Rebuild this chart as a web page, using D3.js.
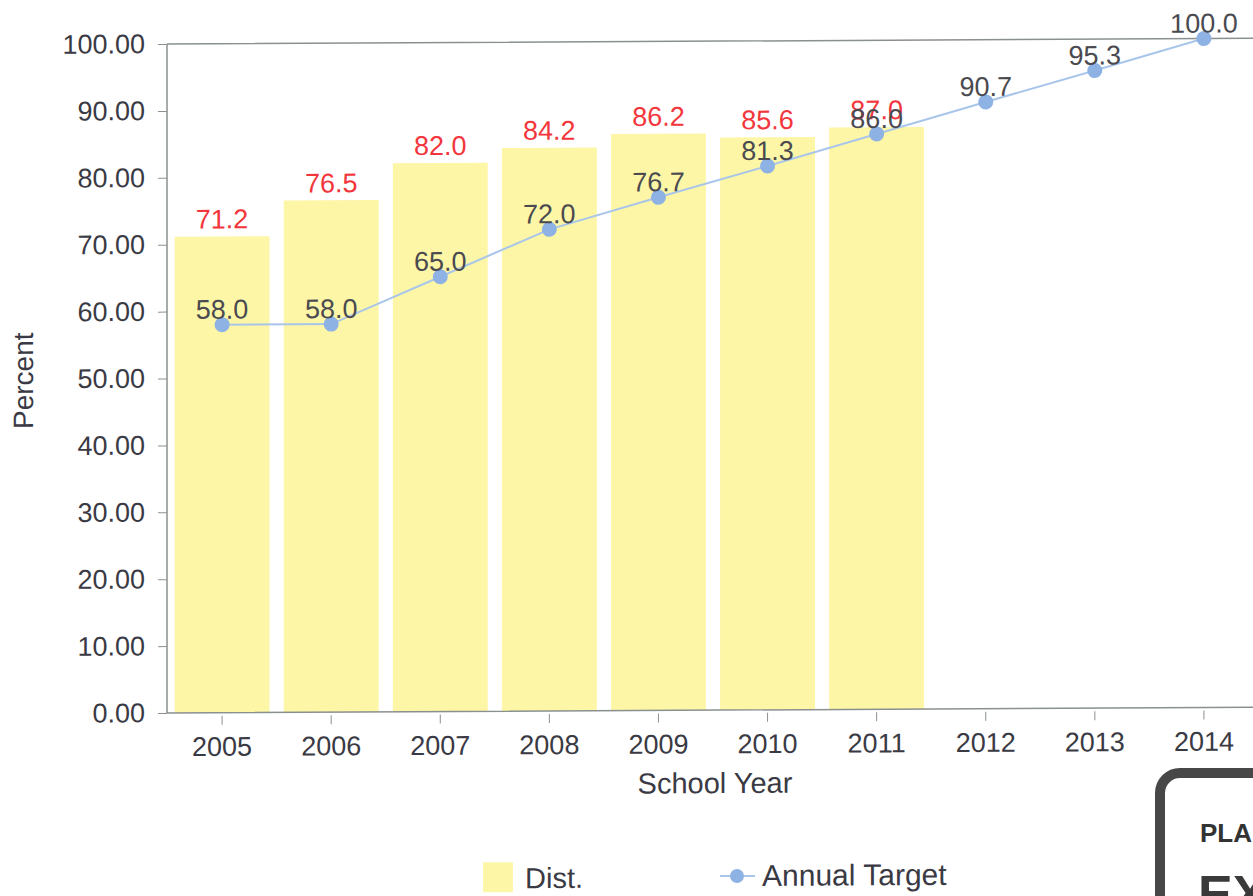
<!DOCTYPE html>
<html>
<head>
<meta charset="utf-8">
<script src="https://cdn.jsdelivr.net/npm/d3@7"></script>
<style>
  body { margin: 0; background: #fff; }
  svg { display: block; font-family: "Liberation Sans", Arial, sans-serif; }
</style>
</head>
<body>
<svg width="1253" height="896"></svg>
<script>
// chart data
let years = ['2005', '2006', '2007', '2008', '2009', '2010', '2011', '2012', '2013', '2014'];
let distYears = ['2005', '2006', '2007', '2008', '2009', '2010', '2011'];
let distValues = [71.2, 76.5, 82.0, 84.2, 86.2, 85.6, 87.0];
let targetValues = [58.0, 58.0, 65.0, 72.0, 76.7, 81.3, 86.0, 90.7, 95.3, 100.0];
let yTicks = [0, 10, 20, 30, 40, 50, 60, 70, 80, 90, 100];

// the scanned page is skewed a little (horizontals rise to the right)
let svg = d3.select('svg').append('g')
  .attr('transform', 'translate(167,713) skewY(-0.3) translate(-167,-713)');
let plotLeft = 167, plotTop = 44, plotBottom = 713, plotRight = 1259;

let x = d3.scaleBand()
  .domain(years)
  .range([plotLeft, plotRight])
  .paddingInner(0.13)
  .paddingOuter(0.07);
let y = d3.scaleLinear().domain([0, 100]).range([plotBottom, plotTop]);

let axisColor = '#8a9090';
let textColor = '#3a3a44';

// bars
let bars = distYears.map((yr, i) => ({year: yr, value: distValues[i]}));
svg.append('g').selectAll('rect')
  .data(bars)
  .enter().append('rect')
  .attr('x', d => x(d.year))
  .attr('y', d => y(d.value))
  .attr('width', x.bandwidth())
  .attr('height', d => y(0) - y(d.value))
  .attr('fill', '#fdf6a6');

// frame: left, top, bottom
svg.append('path')
  .attr('d', `M${plotLeft},${plotTop}H1270M${plotLeft},${plotTop}V${plotBottom}H1270`)
  .attr('stroke', axisColor)
  .attr('stroke-width', 1.5)
  .attr('fill', 'none');

// y axis
let yAxis = d3.axisLeft(y)
  .tickValues(yTicks)
  .tickFormat(d3.format('.2f'))
  .tickSize(9)
  .tickPadding(13);
let gy = svg.append('g')
  .attr('transform', `translate(${plotLeft},0)`)
  .call(yAxis);
gy.select('.domain').remove();
gy.selectAll('line').attr('stroke', axisColor);
gy.selectAll('text')
  .attr('fill', textColor)
  .style('font-size', '27px');

// x axis
let xAxis = d3.axisBottom(x).tickSize(9).tickPadding(12);
let gx = svg.append('g')
  .attr('transform', `translate(0,${plotBottom + 3})`)
  .call(xAxis);
gx.select('.domain').remove();
gx.selectAll('line').attr('stroke', axisColor);
gx.selectAll('text')
  .attr('fill', textColor)
  .style('font-size', '27px');

// axis titles
svg.append('text')
  .attr('x', 715).attr('y', 796)
  .attr('text-anchor', 'middle')
  .attr('fill', textColor)
  .style('font-size', '29px')
  .text('School Year');
svg.append('text')
  .attr('transform', 'translate(33,380) rotate(-90)')
  .attr('text-anchor', 'middle')
  .attr('fill', textColor)
  .style('font-size', '28px')
  .text('Percent');

// target line
let pts = years.map((yr, i) => ({year: yr, value: targetValues[i]}));
let line = d3.line()
  .x(d => x(d.year) + x.bandwidth() / 2)
  .y(d => y(d.value));
svg.append('path')
  .attr('d', line(pts))
  .attr('stroke', '#a9c6ea')
  .attr('stroke-width', 2)
  .attr('fill', 'none');
svg.append('g').selectAll('circle')
  .data(pts)
  .enter().append('circle')
  .attr('cx', d => x(d.year) + x.bandwidth() / 2)
  .attr('cy', d => y(d.value))
  .attr('r', 7.5)
  .attr('fill', '#8fb2e4');

// bar labels
svg.append('g').selectAll('text')
  .data(bars)
  .enter().append('text')
  .attr('x', d => x(d.year) + x.bandwidth() / 2)
  .attr('y', d => y(d.value) - 8)
  .attr('text-anchor', 'middle')
  .attr('fill', '#f2363c')
  .style('font-size', '27px')
  .text(d => d.value.toFixed(1));

// target labels
svg.append('g').selectAll('text')
  .data(pts)
  .enter().append('text')
  .attr('x', d => x(d.year) + x.bandwidth() / 2)
  .attr('y', d => y(d.value) - 6)
  .attr('text-anchor', 'middle')
  .attr('fill', '#4a4a50')
  .style('font-size', '27px')
  .text(d => d.value.toFixed(1));

// legend
let legend = svg.append('g').attr('transform', 'translate(483,864)');
legend.append('rect')
  .attr('width', 30).attr('height', 30)
  .attr('fill', '#fdf6a6');
legend.append('text')
  .attr('x', 42).attr('y', 26)
  .attr('fill', textColor)
  .style('font-size', '29px')
  .text('Dist.');
legend.append('line')
  .attr('x1', 237).attr('x2', 272)
  .attr('y1', 15).attr('y2', 15)
  .attr('stroke', '#a9c6ea').attr('stroke-width', 2);
legend.append('circle')
  .attr('cx', 254).attr('cy', 15).attr('r', 7)
  .attr('fill', '#8fb2e4');
legend.append('text')
  .attr('x', 279).attr('y', 25)
  .attr('fill', textColor)
  .style('font-size', '30px')
  .text('Annual Target');

// scanned sign in the corner
let sign = d3.select('svg').append('g');
sign.append('rect')
  .attr('x', 1160).attr('y', 773)
  .attr('width', 140).attr('height', 160)
  .attr('rx', 20)
  .attr('fill', '#fff')
  .attr('stroke', '#474747')
  .attr('stroke-width', 10);
sign.append('text')
  .attr('x', 1200).attr('y', 842)
  .attr('fill', '#333')
  .style('font-size', '26px')
  .style('font-weight', 'bold')
  .text('PLAN');
sign.append('text')
  .attr('x', 1198).attr('y', 912)
  .attr('fill', '#3a3a3a')
  .style('font-size', '52px')
  .style('font-weight', 'bold')
  .text('EX');
</script>
</body>
</html>
